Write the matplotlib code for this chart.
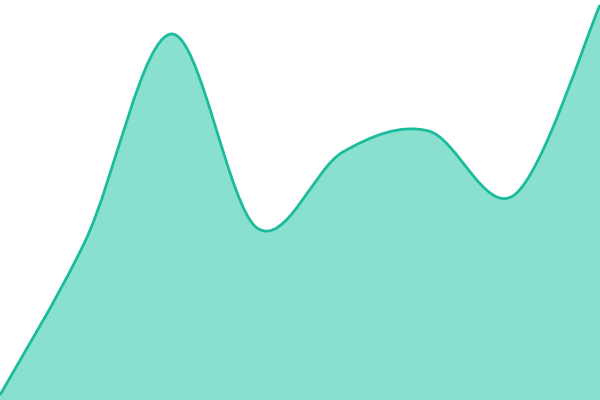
import matplotlib
matplotlib.use("Agg")
import matplotlib.pyplot as plt
from matplotlib.path import Path
from matplotlib.patches import PathPatch

# valeurs (axe 0..400, bas = 0)
positions = [0, 1, 2, 3, 4, 5, 6, 7]
valeurs = [5, 160, 366, 172, 248, 269, 205, 395]

couleur_ligne = "#1abc9c"
couleur_aire = "#8ae0cf"


def courbe_cardinale(xs, ys):
    # segments de Bezier cubiques (Catmull-Rom, tension 0)
    pts = list(zip(xs, ys))
    sommets = [pts[0]]
    codes = [Path.MOVETO]
    for i in range(len(pts) - 1):
        p0 = pts[i - 1] if i > 0 else pts[i]
        p1 = pts[i]
        p2 = pts[i + 1]
        p3 = pts[i + 2] if i + 2 < len(pts) else pts[i + 1]
        c1 = (p1[0] + (p2[0] - p0[0]) / 6, p1[1] + (p2[1] - p0[1]) / 6)
        c2 = (p2[0] - (p3[0] - p1[0]) / 6, p2[1] - (p3[1] - p1[1]) / 6)
        sommets += [c1, c2, p2]
        codes += [Path.CURVE4] * 3
    return sommets, codes


fig = plt.figure(figsize=(6, 4), dpi=100)
ax = fig.add_axes([0, 0, 1, 1])
ax.set_xlim(positions[0], positions[-1])
ax.set_ylim(0, 400)
ax.axis("off")

sommets, codes = courbe_cardinale(positions, valeurs)

# aire sous la courbe
aire_sommets = sommets + [(positions[-1], 0), (positions[0], 0), sommets[0]]
aire_codes = codes + [Path.LINETO, Path.LINETO, Path.CLOSEPOLY]
ax.add_patch(PathPatch(Path(aire_sommets, aire_codes), facecolor=couleur_aire,
                       edgecolor="none"))

# ligne
ax.add_patch(PathPatch(Path(sommets, codes), facecolor="none",
                       edgecolor=couleur_ligne, linewidth=2.0))

fig.savefig("out.png", dpi=100)
